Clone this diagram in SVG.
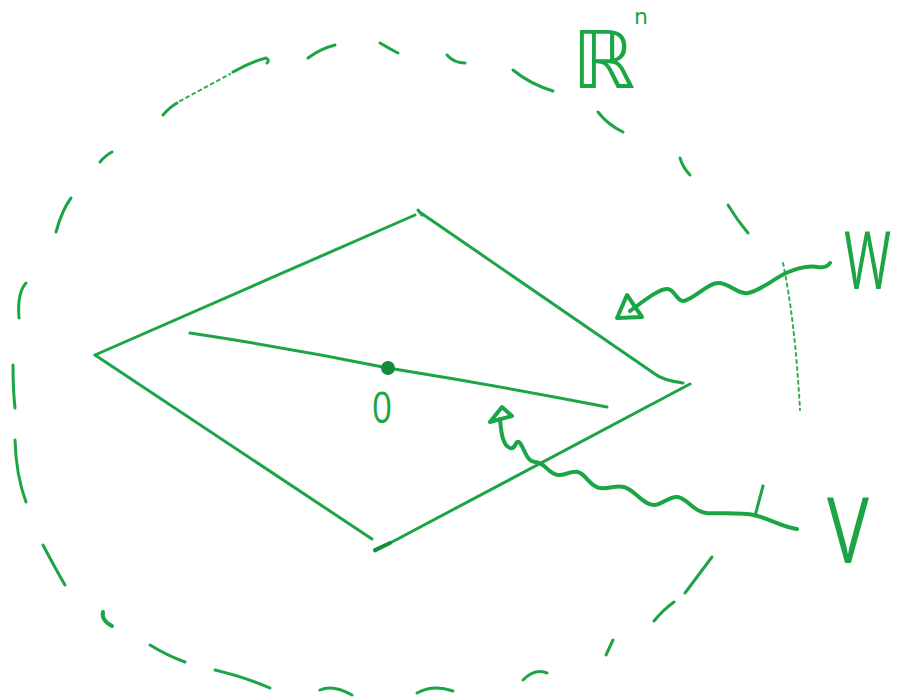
<svg xmlns="http://www.w3.org/2000/svg" width="899" height="697" viewBox="0 0 899 697">
<style>
  .pen { fill: none; stroke: #1ca545; stroke-linecap: round; stroke-linejoin: round; }
  .dash { stroke-width: 3; }
  .faint { stroke-width: 2; stroke-dasharray: 3 4; stroke: #2fae55; }
  .edge { stroke-width: 3; }
  .wave { stroke-width: 4; }
  .lbl { fill: #1ca545; font-family: "Open Sans", "Liberation Sans", sans-serif; font-weight: 400; }
  .bb { font-family: "DejaVu Sans", "Liberation Sans", sans-serif; font-weight: normal; }
</style>
<rect width="899" height="697" fill="#ffffff"/>

<g id="ambient-space-Rn">
  <path class="pen dash" d="M163,115 Q170,107 177,103"/>
  <path class="pen faint" d="M180,101 L230,74"/>
  <path class="pen dash" d="M233,72 Q250,62 266,58 Q270,60 267,63"/>
  <path class="pen dash" d="M308,58 Q320,49 335,45"/>
  <path class="pen dash" d="M380,43 Q390,49 398,53"/>
  <path class="pen dash" d="M447,55 Q454,63 465,63"/>
  <path class="pen dash" d="M513,70 Q530,84 553,91"/>
  <path class="pen dash" d="M598,112 Q608,125 623,132"/>
  <path class="pen dash" d="M680,158 Q683,168 690,175"/>
  <path class="pen dash" d="M728,205 Q737,220 748,233"/>
  <path class="pen faint" d="M783,263 Q795,320 800,410"/>
  <path class="pen dash" d="M712,557 L685,593"/>
  <path class="pen dash" d="M674,602 Q663,610 654,621"/>
  <path class="pen dash" d="M613,640 L606,655"/>
  <path class="pen dash" d="M523,680 Q535,668 547,673"/>
  <path class="pen dash" d="M417,693 Q433,684 453,691"/>
  <path class="pen dash" d="M320,690 Q333,684 352,695"/>
  <path class="pen dash" d="M215,670 Q245,677 270,688"/>
  <path class="pen dash" d="M150,645 Q168,656 185,662"/>
  <path class="pen" style="stroke-width:4" d="M103,612 Q101,620 112,626"/>
  <path class="pen dash" d="M43,545 Q55,568 65,585"/>
  <path class="pen dash" d="M15,440 Q16,475 26,502"/>
  <path class="pen dash" d="M13,365 Q13,390 15,408"/>
  <path class="pen dash" d="M19,318 Q17,293 26,283"/>
  <path class="pen dash" d="M56,232 Q62,210 71,198"/>
  <path class="pen dash" d="M100,162 Q106,155 112,152"/>
  <text class="lbl bb" x="572" y="88" font-size="80">ℝ</text>
  <text class="lbl bb" x="634" y="24" font-size="22">n</text>
</g>

<g id="plane-W">
  <path class="pen edge" d="M95,355 L415,215"/>
  <path class="pen edge" d="M418,210 L422,215"/>
  <path class="pen edge" d="M421,213 L655,374 Q662,380 683,383"/>
  <path class="pen edge" d="M690,384 L375,551"/>
  <path class="pen" style="stroke-width:4;stroke:#13903a" d="M375,550 L390,543"/>
  <path class="pen edge" d="M95,355 L372,539"/>
</g>

<g id="line-V">
  <path class="pen edge" d="M190,333 Q290,348 388,368 Q500,386 607,407"/>
</g>

<g id="origin">
  <circle cx="388" cy="368" r="7" fill="#178a3c"/>
  <text class="lbl" x="372" y="423" font-size="43" textLength="20" lengthAdjust="spacingAndGlyphs">0</text>
</g>

<g id="label-W">
  <text class="lbl" transform="translate(844,289) scale(0.98,1.55)" x="0" y="0" font-size="52">W</text>
</g>

<g id="label-V">
  <text class="lbl" x="827" y="563" font-size="92" textLength="42" lengthAdjust="spacingAndGlyphs">V</text>
</g>

<g id="connectors">
  <path class="pen wave" d="M630,311 C645,300 660,288 668,289 C675,290 677,302 684,301 C695,298 708,283 718,283 C730,283 738,295 748,293 C762,290 775,278 786,273 C797,268 808,265 818,267 C824,268 828,266 830,263"/>
  <polygon class="pen wave" points="617,318 627,295 642,317"/>
  <path class="pen wave" d="M500,419 C501,430 502,445 510,448 C516,450 515,440 519,442 C524,446 526,462 535,462 C545,462 548,474 558,475 C567,476 570,470 578,472 C586,474 590,487 600,488 C610,489 615,485 624,487 C635,490 643,505 654,505 C663,505 668,496 678,497 C688,499 694,512 706,513 C720,514 740,512 754,515 C770,519 785,528 797,529"/>
  <polygon class="pen wave" points="490,422 502,407 512,416"/>
  <path class="pen" style="stroke-width:3" d="M763,486 L755,516"/>
</g>
</svg>
